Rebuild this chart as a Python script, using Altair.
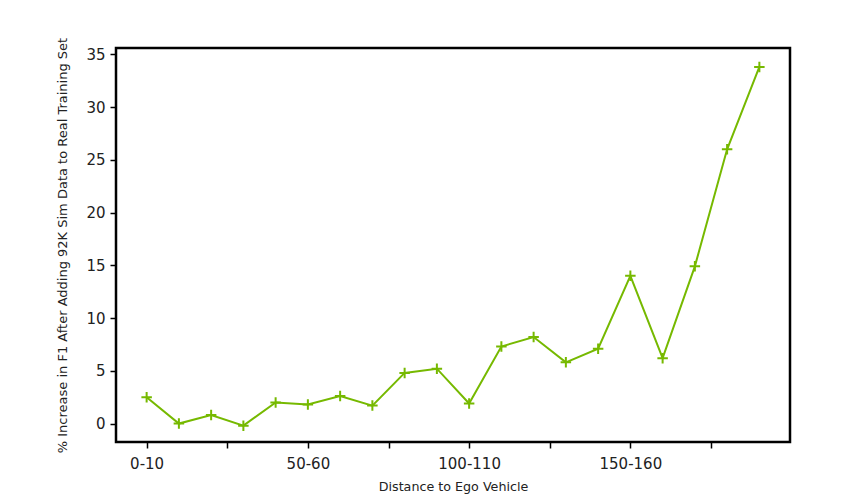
import altair as alt
import pandas as pd

bins = ["0-10", "10-20", "20-30", "30-40", "40-50", "50-60", "60-70", "70-80",
        "80-90", "90-100", "100-110", "110-120", "120-130", "130-140", "140-150",
        "150-160", "160-170", "170-180", "180-190", "190-200"]
pct_increase = [2.5, 0.0, 0.8, -0.2, 2.0, 1.8, 2.6, 1.7, 4.8, 5.2,
                1.9, 7.3, 8.2, 5.8, 7.1, 14.0, 6.2, 14.9, 26.0, 33.8]

df = pd.DataFrame({"idx": list(range(len(bins))), "bin": bins, "pct": pct_increase})

# label only every 5th bin, ticks every 2.5 like the original
label_map = "{" + ",".join(f"'{i}':'{b}'" for i, b in enumerate(bins) if i % 5 == 0) + "}"
tick_vals = [i * 2.5 for i in range(8)]

green = "#76b900"
font = "DejaVu Sans"

x = alt.X("idx:Q",
          scale=alt.Scale(domain=[-0.95, 19.95], nice=False, zero=False),
          axis=alt.Axis(values=tick_vals, labelExpr=f"{label_map}[datum.value] || ''",
                        title="Distance to Ego Vehicle", grid=False, domain=False,
                        tickColor="black", tickWidth=1.5, tickSize=6,
                        labelFontSize=15, labelColor="#222", labelFont=font,
                        labelPadding=8, titleFontSize=12.7, titleFont=font,
                        titleFontWeight="normal", titlePadding=9, titleColor="#222"))
y = alt.Y("pct:Q",
          scale=alt.Scale(domain=[-1.75, 35.6], nice=False, zero=False),
          axis=alt.Axis(values=[0, 5, 10, 15, 20, 25, 30, 35],
                        title="% Increase in F1 After Adding 92K Sim Data to Real Training Set",
                        grid=False, domain=False, tickColor="black", tickWidth=1.5,
                        tickSize=6, labelFontSize=15, labelColor="#222", labelFont=font,
                        labelPadding=5, titleFontSize=13, titleFont=font,
                        titleFontWeight="normal", titlePadding=16, titleColor="#222"))

line = alt.Chart(df).mark_line(color=green, strokeWidth=2).encode(x=x, y=y)
pts = alt.Chart(df).mark_point(shape="M-1,0H1M0,-1V1", filled=False, color=green,
                               strokeWidth=2, size=110, opacity=1).encode(x=x, y=y)

chart = (line + pts).properties(
    width=674, height=394,
    background="white",
    autosize=alt.AutoSizeParams(type="none"),
    padding={"left": 108, "top": 40, "right": 60, "bottom": 60},
).configure_view(stroke="black", strokeWidth=2.5)

chart.save("out.html", embed_options={"renderer": "svg", "actions": False})
